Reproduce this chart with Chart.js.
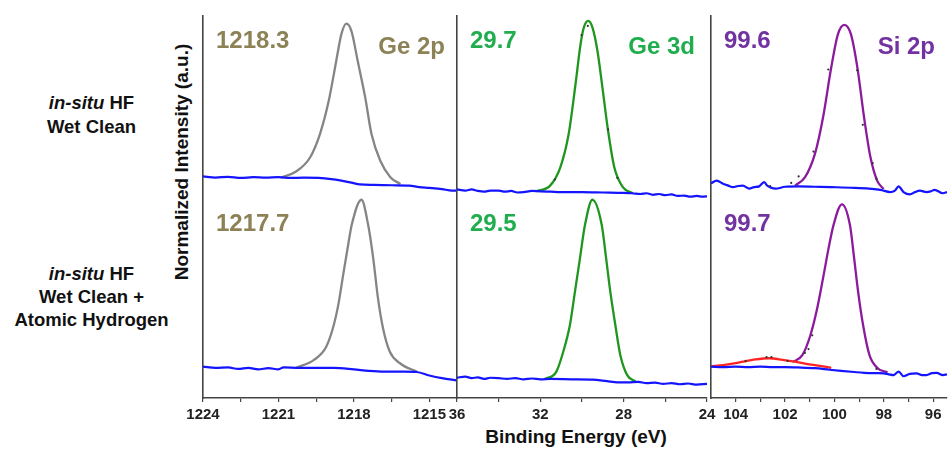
<!DOCTYPE html>
<html>
<head>
<meta charset="utf-8">
<script src="https://cdn.jsdelivr.net/npm/chart.js@4.4.0/dist/chart.umd.min.js"></script>
<style>
  body { margin: 0; background: #fff; }
  #wrap { position: relative; width: 951px; height: 450px; font-family: "Liberation Sans", Arial, sans-serif; color: #111; }
  #wrap canvas { position: absolute; left: 0; top: 0; }
  .rowLabel { position: absolute; left: 0; width: 183px; text-align: center; font-weight: bold; font-size: 18.5px; }
  .rowLabel i { font-style: italic; }
  #yTitle { position: absolute; left: 182px; top: 162px; transform: translate(-50%, -50%) rotate(-90deg); white-space: nowrap; font-weight: bold; font-size: 19px; }
  #xTitle { position: absolute; left: 576px; top: 437px; transform: translate(-50%, -50%); white-space: nowrap; font-weight: bold; font-size: 19px; }
</style>
</head>
<body>
<div id="wrap">
  <div class="rowLabel" style="top:91px; line-height:24px;"><i>in-situ</i> HF<br>Wet Clean</div>
  <div class="rowLabel" style="top:262px; line-height:23px;"><i>in-situ</i> HF<br>Wet Clean +<br>Atomic Hydrogen</div>
  <div id="yTitle">Normalized Intensity (a.u.)</div>
  <div id="xTitle">Binding Energy (eV)</div>
  <canvas id="ge2p" width="951" height="450"></canvas>
  <canvas id="ge3d" width="951" height="450"></canvas>
  <canvas id="si2p" width="951" height="450"></canvas>
</div>
<script>
// Spectra are [binding energy (eV), normalized intensity]; the upper spectrum sits offset above the lower one

// ---- Ge 2p ----
const ge2pPeaks = [1218.3, 1217.7];
const ge2pTicks = [1224, 1221, 1218, 1215];
const ge2pMinorTicks = [1222.5, 1219.5, 1216.5];
const ge2pTopBackground = [
  [1224, 58.0], [1223.5, 57.7], [1223, 57.9], [1222.5, 57.6], [1222, 57.8], [1221.5, 57.7],
  [1221, 57.8], [1220.5, 57.6], [1220, 57.7], [1219.4, 57.6], [1218.9, 57.3], [1218.5, 56.9],
  [1218.1, 56.4], [1217.76, 55.9], [1217.2, 55.8], [1216.5, 55.7], [1215.8, 55.6], [1215.4, 55.2],
  [1215, 55.0], [1214.5, 54.7], [1214.1, 54.3], [1213.9, 54.3]
];
const ge2pTopFit = [
  [1220.9, 57.7], [1220.3, 59.3], [1219.75, 62.9], [1219.35, 69.1], [1219.0, 77.8], [1218.7, 88.3],
  [1218.5, 95.2], [1218.3, 98.0], [1218.1, 96.1], [1217.85, 88.3], [1217.55, 78.7], [1217.3, 69.1],
  [1216.95, 62.1], [1216.55, 57.8], [1216.15, 56.0]
];
const ge2pBottomBackground = [
  [1224, 8.2], [1223.5, 7.9], [1223, 8.0], [1222.6, 7.6], [1222.2, 7.9], [1221.8, 7.5], [1221.4, 7.8],
  [1221, 7.5], [1220.8, 8.0], [1220.2, 7.9], [1219.5, 7.9], [1218.8, 7.9], [1218.0, 7.5], [1217.4, 7.1],
  [1216.8, 6.9], [1216.0, 6.9], [1215.5, 6.8], [1215.0, 5.9], [1214.5, 5.2], [1213.9, 4.6]
];
const ge2pBottomFit = [
  [1220.3, 7.9], [1219.6, 9.9], [1219.1, 13.4], [1218.8, 19.1], [1218.6, 25.1], [1218.43, 32.1],
  [1218.23, 40.0], [1218.09, 45.2], [1217.7, 51.9], [1217.43, 45.2], [1217.23, 36.5], [1217.04, 26.0],
  [1216.84, 18.2], [1216.57, 12.1], [1216.17, 9.1], [1215.5, 6.9]
];

// ---- Ge 3d ----
const ge3dPeaks = [29.7, 29.5];
const ge3dTicks = [36, 32, 28, 24];
const ge3dMinorTicks = [34, 30, 26];
const ge3dTopBackground = [
  [36, 54.6], [35.6, 54.3], [35.3, 54.6], [35.0, 54.2], [34.7, 54.0], [34.4, 54.3], [34.0, 54.3],
  [33.7, 54.0], [33.4, 54.2], [33.1, 53.8], [32.8, 53.9], [32.4, 54.2], [32.0, 54.1], [31.5, 54.0],
  [31.0, 53.9], [30.0, 53.9], [29.0, 53.8], [28.0, 53.7], [27.6, 53.6], [27.2, 53.4], [26.9, 53.6],
  [26.6, 53.2], [26.3, 53.4], [26.0, 53.1], [25.7, 53.3], [25.4, 52.9], [25.1, 53.0], [24.8, 52.7],
  [24.5, 52.9], [24.2, 52.7], [24.0, 52.8]
];
const ge3dTopFit = [
  [32.2, 54.1], [31.53, 55.6], [31.04, 60.4], [30.64, 69.1], [30.31, 82.2], [30.07, 92.6],
  [29.91, 97.0], [29.7, 98.7], [29.5, 97.0], [29.26, 90.9], [29.02, 81.3], [28.77, 70.8],
  [28.45, 60.4], [28.04, 55.2], [27.56, 53.6]
];
const ge3dTopRaw = [[30.02, 95.0], [29.72, 97.4], [28.75, 70.3], [28.3, 57.6], [31.3, 57.2]];
const ge3dBottomBackground = [
  [36, 5.3], [35.6, 5.6], [35.3, 5.2], [35.0, 5.4], [34.7, 5.0], [34.4, 5.3], [34.0, 5.2], [33.6, 5.0],
  [33.2, 5.2], [32.8, 4.9], [32.4, 5.1], [32.0, 4.9], [31.5, 5.0], [30.5, 4.9], [29.5, 4.8], [28.8, 4.4],
  [28.3, 4.1], [27.8, 4.1], [27.3, 4.2], [26.9, 3.9], [26.5, 4.0], [26.1, 3.7], [25.7, 3.9], [25.3, 3.6],
  [24.9, 3.8], [24.5, 3.5], [24.0, 3.7]
];
const ge3dBottomFit = [
  [31.8, 4.9], [31.23, 6.9], [30.9, 12.1], [30.58, 19.1], [30.34, 27.8], [30.10, 36.5], [29.86, 45.2],
  [29.5, 51.9], [29.05, 45.2], [28.84, 36.5], [28.64, 27.8], [28.40, 19.1], [28.16, 11.2], [27.83, 6.0],
  [27.43, 4.3]
];

// ---- Si 2p ----
const si2pPeaks = [99.6, 99.7];
const si2pTicks = [104, 102, 100, 98, 96];
const si2pMinorTicks = [103, 101, 99, 97];
const si2pTopBackground = [
  [105, 56.2], [104.77, 56.9], [104.51, 56.1], [104.3, 55.6], [104.11, 55.2], [103.9, 55.5], [103.71, 55.6],
  [103.45, 54.8], [103.25, 55.2], [103.05, 55.4], [102.85, 56.5], [102.72, 55.6], [102.55, 55.0],
  [102.38, 54.8], [102.0, 55.3], [101.45, 55.4], [100.8, 55.3], [100.13, 55.2], [99.2, 55.0], [98.14, 54.5],
  [97.74, 53.9], [97.55, 54.3], [97.40, 55.4], [97.20, 53.9], [96.94, 53.3], [96.74, 53.9], [96.54, 54.3],
  [96.27, 53.9], [96.1, 54.1], [95.94, 54.5], [95.61, 53.6], [95.44, 53.9]
];
const si2pTopFit = [
  [101.59, 55.6], [101.19, 57.8], [100.79, 63.9], [100.46, 73.5], [100.13, 86.5], [99.86, 95.2],
  [99.6, 97.7], [99.33, 95.2], [99.07, 86.5], [98.8, 73.5], [98.54, 63.0], [98.27, 56.9], [98.01, 54.7]
];
const si2pTopRaw = [
  [100.25, 86.0], [100.85, 64.5], [101.45, 58.0], [101.75, 56.3], [99.08, 85.8], [98.85, 71.5],
  [98.45, 61.5], [98.3, 57.4], [102.6, 55.5]
];
const si2pBottomBackground = [
  [105, 8.2], [104.5, 8.1], [104, 8.2], [103.5, 8.1], [103, 8.2], [102.5, 8.1], [102, 8.1], [101.5, 8.0],
  [100.79, 7.8], [100.2, 7.4], [99.73, 7.1], [99.2, 6.8], [98.8, 6.6], [98.3, 6.5], [98.0, 6.45],
  [97.8, 6.2], [97.6, 6.0], [97.4, 6.9], [97.2, 5.7], [96.95, 6.3], [96.67, 6.45], [96.45, 6.0],
  [96.27, 6.0], [96.05, 6.5], [95.86, 6.6], [95.61, 6.0], [95.44, 6.2]
];
const si2pBottomOxide = [
  [105, 8.3], [104.5, 8.6], [104, 9.1], [103.71, 9.5], [103.2, 10.1], [102.65, 10.4], [102.1, 10.0],
  [101.59, 9.5], [101.2, 9.0], [100.79, 8.6], [100.4, 8.2], [100.13, 7.9]
];
const si2pBottomFit = [
  [101.7, 9.4], [101.30, 11.2], [100.97, 16.5], [100.70, 23.4], [100.44, 32.1], [100.24, 39.1],
  [100.04, 45.2], [99.7, 50.7], [99.37, 45.2], [99.2, 36.5], [99.04, 27.8], [98.84, 19.1],
  [98.58, 11.2], [98.25, 7.8], [97.85, 6.7]
];
const si2pBottomRaw = [
  [101.2, 11.8], [101.05, 12.8], [100.9, 16.4], [102.75, 10.7], [102.55, 10.7], [103.6, 9.7],
  [101.9, 9.7], [98.3, 7.6]
];

const FONT = '"Liberation Sans", Arial, sans-serif';
const BLUE = '#1414ff';

function line(data, color, width) {
  return {
    data: data,
    borderColor: color,
    borderWidth: width,
    pointRadius: 0,
    fill: false,
    cubicInterpolationMode: 'monotone'
  };
}

function dots(data) {
  return {
    data: data,
    showLine: false,
    pointRadius: 1.1,
    pointBorderWidth: 0,
    pointBackgroundColor: '#333'
  };
}

// peak positions and element name written inside each panel
function panelText(peaks, element, color) {
  return {
    id: 'panelText',
    afterDraw(chart) {
      const { ctx, chartArea } = chart;
      ctx.save();
      ctx.font = 'bold 24px ' + FONT;
      ctx.fillStyle = color;
      ctx.textAlign = 'left';
      ctx.fillText(peaks[0].toFixed(1), chartArea.left + 13, 48);
      ctx.fillText(peaks[1].toFixed(1), chartArea.left + 13, 231);
      ctx.textAlign = 'right';
      ctx.fillText(element, chartArea.right - 12, 54);
      ctx.restore();
    }
  };
}

function createPanel(id, opts) {
  const ctx = document.getElementById(id).getContext('2d');
  const allTicks = opts.ticks.concat(opts.minor).sort((a, b) => a - b);
  return new Chart(ctx, {
    type: 'line',
    data: { datasets: opts.datasets },
    options: {
      responsive: false,
      animation: false,
      events: [],
      layout: { padding: { left: opts.left, right: 951 - opts.right, top: 16, bottom: 0 } },
      plugins: { legend: { display: false }, tooltip: { enabled: false } },
      scales: {
        x: {
          type: 'linear',
          reverse: true,
          min: opts.min,
          max: opts.max,
          border: { color: '#444', width: 1.6 },
          grid: { drawOnChartArea: false, tickLength: 4, color: '#444', lineWidth: 1.2 },
          afterBuildTicks: scale => { scale.ticks = allTicks.map(v => ({ value: v })); },
          afterFit: scale => { scale.height = 52; },
          ticks: {
            autoSkip: false,
            maxRotation: 0,
            padding: 4,
            color: '#222',
            font: { family: FONT, size: 15, weight: 'bold' },
            callback: v => opts.ticks.includes(v) ? String(v) : ''
          }
        },
        y: {
          min: 0,
          max: 100,
          ticks: { display: false },
          grid: { display: false, drawTicks: false },
          border: { color: '#444', width: 1.6 },
          afterFit: scale => { scale.width = 0; }
        }
      }
    },
    plugins: [panelText(opts.peaks, opts.element, opts.labelColor)]
  });
}

createPanel('ge2p', {
  left: 203, right: 457, min: 1213.9, max: 1224,
  ticks: ge2pTicks, minor: ge2pMinorTicks,
  peaks: ge2pPeaks, element: 'Ge 2p', labelColor: '#8c8256',
  datasets: [
    line(ge2pTopBackground, BLUE, 2.2),
    line(ge2pBottomBackground, BLUE, 2.2),
    line(ge2pTopFit, '#858585', 2.3),
    line(ge2pBottomFit, '#858585', 2.3)
  ]
});

createPanel('ge3d', {
  left: 457, right: 707, min: 24, max: 36,
  ticks: ge3dTicks, minor: ge3dMinorTicks,
  peaks: ge3dPeaks, element: 'Ge 3d', labelColor: '#20ad4e',
  datasets: [
    dots(ge3dTopRaw),
    line(ge3dTopBackground, BLUE, 2.2),
    line(ge3dBottomBackground, BLUE, 2.2),
    line(ge3dTopFit, '#1f961f', 2.3),
    line(ge3dBottomFit, '#1f961f', 2.3)
  ]
});

createPanel('si2p', {
  left: 711, right: 951, min: 95.44, max: 105,
  ticks: si2pTicks, minor: si2pMinorTicks,
  peaks: si2pPeaks, element: 'Si 2p', labelColor: '#7232a2',
  datasets: [
    dots(si2pTopRaw),
    dots(si2pBottomRaw),
    line(si2pTopBackground, BLUE, 2.2),
    line(si2pBottomBackground, BLUE, 2.2),
    line(si2pBottomOxide, '#ff2424', 2.3),
    line(si2pTopFit, '#8c1a9c', 2.3),
    line(si2pBottomFit, '#8c1a9c', 2.3)
  ]
});
</script>
</body>
</html>
